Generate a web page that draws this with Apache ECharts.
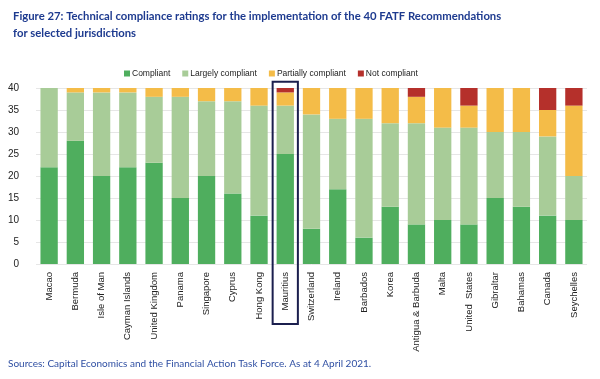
<!DOCTYPE html>
<html><head><meta charset="utf-8">
<script src="https://cdn.jsdelivr.net/npm/echarts@6/dist/echarts.min.js"></script>
<style>html,body{margin:0;padding:0;background:#fff}#c{width:600px;height:379px}</style>
</head><body><div id="c"></div>
<script>
const categories = ["Macao","Bermuda","Isle of Man","Cayman Islands","United Kingdom","Panama","Singapore","Cyprus","Hong Kong","Mauritius","Switzerland","Ireland","Barbados","Korea","Antigua & Barbuda","Malta","United  States","Gibraltar","Bahamas","Canada","Seychelles"];
const compliant          = [22,28,20,22,23,15,20,16,11,25, 8,17, 6,13, 9,10, 9,15,13,11,10];
const largelyCompliant   = [18,11,19,17,15,23,17,21,25,11,26,16,27,19,23,21,22,15,17,18,10];
const partiallyCompliant = [ 0, 1, 1, 1, 2, 2, 3, 3, 4, 3, 6, 7, 7, 8, 6, 9, 5,10,10, 6,16];
const notCompliant       = [ 0, 0, 0, 0, 0, 0, 0, 0, 0, 1, 0, 0, 0, 0, 2, 0, 4, 0, 0, 5, 4];
const seriesNames = ["Compliant","Largely compliant","Partially compliant","Not compliant"];
const colors = ["#4fae5e","#a8cc98","#f4bc48","#b5302b"];
const highlight = "Mauritius";
const yTicks = {min:0, max:40, interval:5};

const chart = echarts.init(document.getElementById('c'), null, {renderer:'canvas'});
const data = [compliant, largelyCompliant, partiallyCompliant, notCompliant];
const option = {
  animation:false,
  textStyle:{fontFamily:'Liberation Sans'},
  title:{
    text:'Figure 27: Technical compliance ratings for the implementation of the 40 FATF Recommendations\nfor selected jurisdictions',
    left:8, top:3,
    textStyle:{fontFamily:'Lato', fontWeight:'bold', fontSize:11.3, color:'#1d3a8f', lineHeight:17}
  },
  legend:{
    top:64, left:119, itemWidth:6, itemHeight:6, itemGap:12, icon:'rect',
    textStyle:{fontFamily:'Liberation Sans', fontSize:8.5, color:'#222', padding:[0,0,0,-3]},
    data:seriesNames
  },
  grid:{left:36, right:13, top:88, bottom:115},
  xAxis:{
    type:'category', data:categories,
    axisLine:{show:false}, axisTick:{show:false},
    axisLabel:{rotate:90, interval:0, fontSize:9.5, color:'#222', margin:8}
  },
  yAxis:{
    type:'value', min:yTicks.min, max:yTicks.max, interval:yTicks.interval,
    axisLine:{show:false}, axisTick:{show:false},
    axisLabel:{fontSize:10, color:'#222', margin:17},
    splitLine:{lineStyle:{color:'#e6e6e6', width:1}}
  },
  series: seriesNames.map((n,i)=>({
    name:n, type:'bar', stack:'total', data:data[i], barCategoryGap:'34%',
    itemStyle:{color:colors[i]}
  }))
};
chart.setOption(option);
// highlight box around Mauritius, positioned via the axis scales
const idx = categories.indexOf(highlight);
const c0 = chart.convertToPixel({gridIndex:0}, [idx, 41.4]);
const c1 = chart.convertToPixel({gridIndex:0}, [idx+1, 0]);
const band = c1[0]-c0[0];
chart.setOption({graphic:[
  {type:'rect', shape:{x:c0[0]-band/2+0.5, y:c0[1], width:band-1, height:324-c0[1]},
   style:{fill:'none', stroke:'#1b1f4e', lineWidth:2}, z:100},
  {type:'text', left:8, top:359, style:{text:'Sources: Capital Economics and the Financial Action Task Force. As at 4 April 2021.', fontFamily:'Lato', fontSize:10, fill:'#2f4fa3'}}
]});
</script>
</body></html>
